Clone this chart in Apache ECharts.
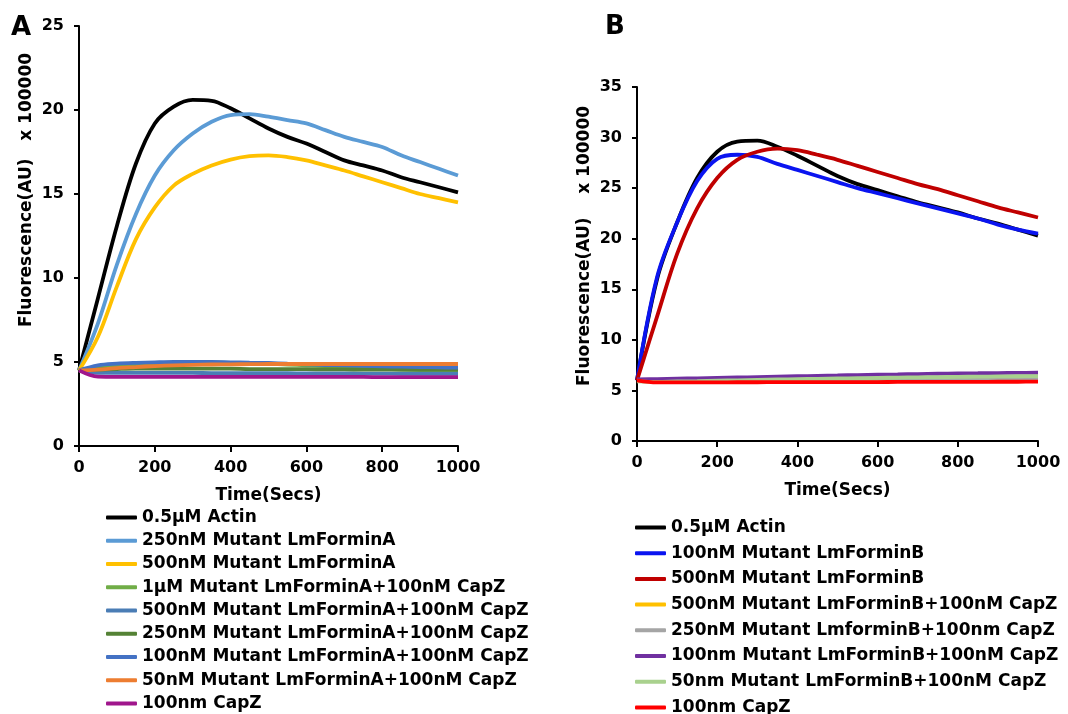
<!DOCTYPE html>
<html>
<head>
<meta charset="utf-8">
<script src="https://cdn.jsdelivr.net/npm/echarts@6/dist/echarts.min.js"></script>
<style>
  html, body { margin: 0; padding: 0; background: #fff; }
  #chart { width: 1068px; height: 714px; }
</style>
</head>
<body>
<div id="chart"></div>
<script>
// time points (s), same for both panels
const times = [0, 50, 100, 150, 200, 250, 300, 350, 400, 450, 500, 550, 600, 650, 700, 750, 800, 850, 900, 950, 1000];

// panel A  (x 100000 AU)
const namesA = [
  '0.5μM Actin',
  '250nM Mutant LmForminA',
  '500nM Mutant LmForminA',
  '1μM Mutant LmForminA+100nM CapZ',
  '500nM Mutant LmForminA+100nM CapZ',
  '250nM Mutant LmForminA+100nM CapZ',
  '100nM Mutant LmForminA+100nM CapZ',
  '50nM Mutant LmForminA+100nM CapZ',
  '100nm CapZ'
];
const colorsA = ['#000000', '#5B9BD5', '#FFC000', '#70AD47', '#4A7DB5', '#548235', '#4472C4', '#ED7D31', '#A0168C'];
const actinA      = [4.5, 8.8, 13.1, 16.8, 19.2, 20.2, 20.6, 20.55, 20.1, 19.5, 18.9, 18.4, 18.0, 17.5, 17.0, 16.7, 16.4, 16.0, 15.7, 15.4, 15.1];
const formA250    = [4.5, 7.3, 10.8, 13.8, 16.1, 17.6, 18.6, 19.3, 19.7, 19.75, 19.6, 19.4, 19.2, 18.8, 18.4, 18.1, 17.8, 17.3, 16.9, 16.5, 16.1];
const formA500    = [4.5, 6.5, 9.5, 12.3, 14.2, 15.5, 16.2, 16.7, 17.05, 17.25, 17.3, 17.2, 17.0, 16.7, 16.4, 16.05, 15.7, 15.35, 15.0, 14.75, 14.5];
const formA1uCap  = [4.5, 4.7, 4.8, 4.88, 4.92, 4.95, 4.96, 4.96, 4.95, 4.93, 4.9, 4.85, 4.8, 4.75, 4.7, 4.65, 4.6, 4.55, 4.52, 4.5, 4.48];
const formA500Cap = [4.5, 4.36, 4.35, 4.35, 4.35, 4.35, 4.35, 4.34, 4.34, 4.33, 4.33, 4.33, 4.32, 4.32, 4.32, 4.31, 4.31, 4.3, 4.3, 4.3, 4.3];
const formA250Cap = [4.5, 4.55, 4.58, 4.6, 4.6, 4.6, 4.6, 4.6, 4.6, 4.58, 4.58, 4.57, 4.57, 4.56, 4.56, 4.55, 4.55, 4.55, 4.55, 4.55, 4.55];
const formA100Cap = [4.5, 4.8, 4.9, 4.95, 4.98, 5.0, 5.0, 5.0, 4.98, 4.96, 4.94, 4.9, 4.86, 4.82, 4.8, 4.77, 4.74, 4.72, 4.7, 4.68, 4.66];
const formA50Cap  = [4.5, 4.55, 4.64, 4.7, 4.76, 4.8, 4.83, 4.85, 4.86, 4.87, 4.88, 4.88, 4.88, 4.88, 4.88, 4.88, 4.88, 4.88, 4.88, 4.88, 4.88];
const capzA       = [4.5, 4.13, 4.12, 4.12, 4.12, 4.12, 4.12, 4.12, 4.12, 4.12, 4.12, 4.11, 4.11, 4.11, 4.11, 4.11, 4.1, 4.1, 4.1, 4.1, 4.1];
const valuesA = [actinA, formA250, formA500, formA1uCap, formA500Cap, formA250Cap, formA100Cap, formA50Cap, capzA];

// panel B  (x 100000 AU)
const namesB = [
  '0.5μM Actin',
  '100nM Mutant LmForminB',
  '500nM Mutant LmForminB',
  '500nM Mutant LmForminB+100nM CapZ',
  '250nM Mutant LmforminB+100nm CapZ',
  '100nm Mutant LmForminB+100nM CapZ',
  '50nm Mutant LmForminB+100nM CapZ',
  '100nm CapZ'
];
const colorsB = ['#000000', '#0A14F0', '#C00000', '#FFC000', '#A5A5A5', '#7030A0', '#A9D18E', '#FF0000'];
const actinB      = [6.0, 16.0, 21.6, 26.0, 28.6, 29.6, 29.7, 29.1, 28.2, 27.2, 26.2, 25.4, 24.8, 24.2, 23.6, 23.1, 22.6, 22.0, 21.5, 20.9, 20.3];
const formB100    = [6.0, 16.2, 21.6, 25.7, 27.9, 28.3, 28.1, 27.4, 26.8, 26.2, 25.6, 25.0, 24.5, 24.0, 23.5, 23.0, 22.5, 22.0, 21.4, 20.9, 20.5];
const formB500    = [6.0, 12.3, 18.5, 23.0, 26.0, 27.8, 28.6, 28.9, 28.75, 28.3, 27.8, 27.2, 26.6, 26.0, 25.4, 24.9, 24.3, 23.7, 23.1, 22.6, 22.1];
const formB500Cap = [6.0, 5.9, 5.94, 5.96, 5.98, 6.0, 6.0, 6.02, 6.03, 6.04, 6.05, 6.06, 6.07, 6.08, 6.09, 6.1, 6.1, 6.11, 6.12, 6.12, 6.13];
const formB250Cap = [6.0, 5.95, 5.98, 6.0, 6.03, 6.05, 6.07, 6.08, 6.1, 6.11, 6.12, 6.13, 6.14, 6.15, 6.16, 6.17, 6.18, 6.19, 6.2, 6.2, 6.21];
const formB100Cap = [6.1, 6.12, 6.16, 6.2, 6.24, 6.28, 6.32, 6.36, 6.4, 6.44, 6.48, 6.52, 6.55, 6.58, 6.62, 6.65, 6.68, 6.7, 6.72, 6.74, 6.75];
const formB50Cap  = [5.9, 5.85, 5.89, 5.92, 5.96, 6.0, 6.04, 6.08, 6.12, 6.15, 6.18, 6.21, 6.24, 6.27, 6.3, 6.32, 6.34, 6.36, 6.38, 6.4, 6.42];
const capzB       = [6.0, 5.8, 5.8, 5.8, 5.8, 5.81, 5.81, 5.82, 5.82, 5.82, 5.83, 5.83, 5.83, 5.84, 5.84, 5.84, 5.85, 5.85, 5.86, 5.86, 5.87];
const valuesB = [actinB, formB100, formB500, formB500Cap, formB250Cap, formB100Cap, formB50Cap, capzB];

const FONT = 'DejaVu Sans';

const chart = echarts.init(document.getElementById('chart'));

function axisX(gridIndex) {
  return {
    type: 'value', gridIndex, min: 0, max: 1000, interval: 200,
    name: 'Time(Secs)', nameLocation: 'middle', nameGap: 41,
    nameTextStyle: { fontFamily: FONT, fontWeight: 'bold', fontSize: 17, color: '#000' },
    axisLine: { lineStyle: { color: '#000', width: 2 } },
    axisTick: { show: true, length: 6, lineStyle: { color: '#000', width: 2 } },
    axisLabel: { margin: 14, fontFamily: FONT, fontWeight: 'bold', fontSize: 16, color: '#000', formatter: v => String(v) },
    splitLine: { show: false }
  };
}
function axisY(gridIndex, max) {
  return {
    type: 'value', gridIndex, min: 0, max, interval: 5,
    axisLine: { show: true, lineStyle: { color: '#000', width: 2 } },
    axisTick: { show: true, length: 5, lineStyle: { color: '#000', width: 2 } },
    axisLabel: { margin: 15, fontFamily: FONT, fontWeight: 'bold', fontSize: 16, color: '#000' },
    splitLine: { show: false }
  };
}

const series = [];
namesA.forEach((n, i) => {
  series.push({
    name: n, type: 'line', xAxisIndex: 0, yAxisIndex: 0,
    data: times.map((t, j) => [t, valuesA[i][j]]),
    smooth: 0.35, symbol: 'none', color: colorsA[i],
    lineStyle: { width: 3.8, color: colorsA[i] }
  });
});
namesB.forEach((n, i) => {
  series.push({
    name: n, type: 'line', xAxisIndex: 1, yAxisIndex: 1,
    data: times.map((t, j) => [t, valuesB[i][j]]),
    smooth: 0.35, symbol: 'none', color: colorsB[i],
    lineStyle: { width: 3.8, color: colorsB[i] }
  });
});

const legendText = { fontFamily: FONT, fontWeight: 'bold', fontSize: 17, color: '#000', lineHeight: 17 };

chart.setOption({
  animation: false,
  backgroundColor: '#fff',
  grid: [
    { left: 79, right: 610, top: 26, bottom: 268 },
    { left: 637, right: 30, top: 87, bottom: 273 }
  ],
  xAxis: [axisX(0), axisX(1)],
  yAxis: [axisY(0, 25), axisY(1, 35)],
  legend: [
    {
      orient: 'vertical', left: 106, top: 509, height: 260, padding: 0, itemGap: 6.25,
      itemWidth: 31, itemHeight: 4, icon: 'roundRect',
      textStyle: legendText,
      data: namesA.map((n, i) => ({ name: n, itemStyle: { color: colorsA[i] } }))
    },
    {
      orient: 'vertical', left: 635, top: 519, height: 260, padding: 0, itemGap: 8.7,
      itemWidth: 31, itemHeight: 4, icon: 'roundRect',
      textStyle: legendText,
      data: namesB.map((n, i) => ({ name: n, itemStyle: { color: colorsB[i] } }))
    }
  ],
  graphic: [
    { type: 'text', left: 11, top: 15, style: { text: 'A', fontFamily: FONT, fontWeight: 'bold', fontSize: 26, fill: '#000' } },
    { type: 'text', left: 605, top: 14, style: { text: 'B', fontFamily: FONT, fontWeight: 'bold', fontSize: 26, fill: '#000' } },
    {
      type: 'text', x: 27, y: 190, rotation: Math.PI / 2,
      style: { text: 'Fluorescence(AU)   x 100000', fontFamily: FONT, fontWeight: 'bold', fontSize: 17, fill: '#000', align: 'center', verticalAlign: 'middle' }
    },
    {
      type: 'text', x: 585, y: 246, rotation: Math.PI / 2,
      style: { text: 'Fluorescence(AU)    x 100000', fontFamily: FONT, fontWeight: 'bold', fontSize: 17, fill: '#000', align: 'center', verticalAlign: 'middle' }
    }
  ],
  series
});
</script>
</body>
</html>
